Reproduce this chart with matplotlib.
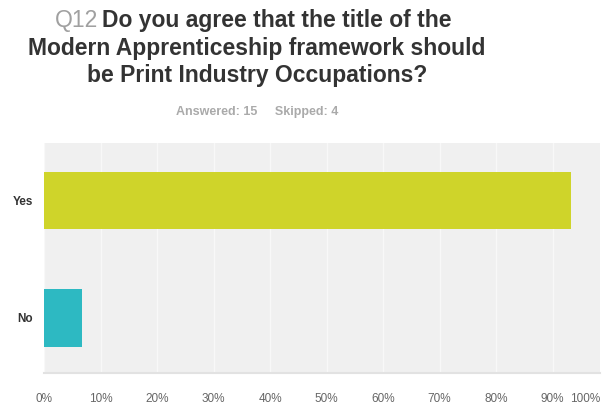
import matplotlib
matplotlib.use("Agg")
import matplotlib.pyplot as plt

# Survey answers (share of respondents, %)
choices = ["Yes", "No"]
shares = [93.33, 6.67]
bar_colors = ["#cfd42a", "#2db9c2"]
tick_vals = [0, 10, 20, 30, 40, 50, 60, 70, 80, 90]
tick_text = ["0%", "10%", "20%", "30%", "40%", "50%", "60%", "70%", "80%", "90%"]

plt.rcParams['font.family'] = ['Liberation Sans', 'DejaVu Sans']

fig = plt.figure(figsize=(6.03, 4.07), dpi=100)
ax = fig.add_axes([44 / 603, 1 - 373 / 407, 556 / 603, 230 / 407])
ax.set_facecolor("#f0f0f0")

ax.barh(choices, shares, height=0.49, color=bar_colors, zorder=3)
ax.set_xlim(0, 98.4)
ax.set_ylim(1.47, -0.49)

ax.set_xticks(tick_vals)
ax.set_xticklabels(tick_text, fontsize=8.5, color="#666666")
ax.text(1.0, -26 / 230, "100%", transform=ax.transAxes, ha="right", va="center",
        fontsize=8.5, color="#666666")
ax.tick_params(axis="y", labelsize=8.5, labelcolor="#333333", length=0, pad=8)
ax.tick_params(axis="x", length=0, pad=19)
for lab in ax.get_xticklabels():
    lab.set_verticalalignment("center")
for lab in ax.get_yticklabels():
    lab.set_fontweight("bold")

ax.grid(axis="x", color="#f8f8f8", linewidth=1, zorder=1)
for side in ["top", "right", "left"]:
    ax.spines[side].set_visible(False)
ax.spines["bottom"].set_color("#e2e2e2")
ax.spines["bottom"].set_linewidth(1.5)

# Title: grey question number, dark question text
fig.text(0.163, 1 - 27 / 407, "Q12", ha="right", va="baseline", fontsize=16.5,
         color="#a0a0a0")
fig.text(0.169, 1 - 27 / 407, "Do you agree that the title of the", ha="left",
         va="baseline", fontsize=16.5, fontweight="bold", color="#333333")
fig.text(257 / 603, 1 - 55 / 407, "Modern Apprenticeship framework should",
         ha="center", va="baseline", fontsize=16.5, fontweight="bold", color="#333333")
fig.text(257 / 603, 1 - 82 / 407, "be Print Industry Occupations?",
         ha="center", va="baseline", fontsize=16.5, fontweight="bold", color="#333333")
fig.text(257 / 603, 1 - 112 / 407, "Answered: 15     Skipped: 4", ha="center",
         va="center", fontsize=9, fontweight="bold", color="#aaaaaa")

fig.savefig("out.png", dpi=100)
